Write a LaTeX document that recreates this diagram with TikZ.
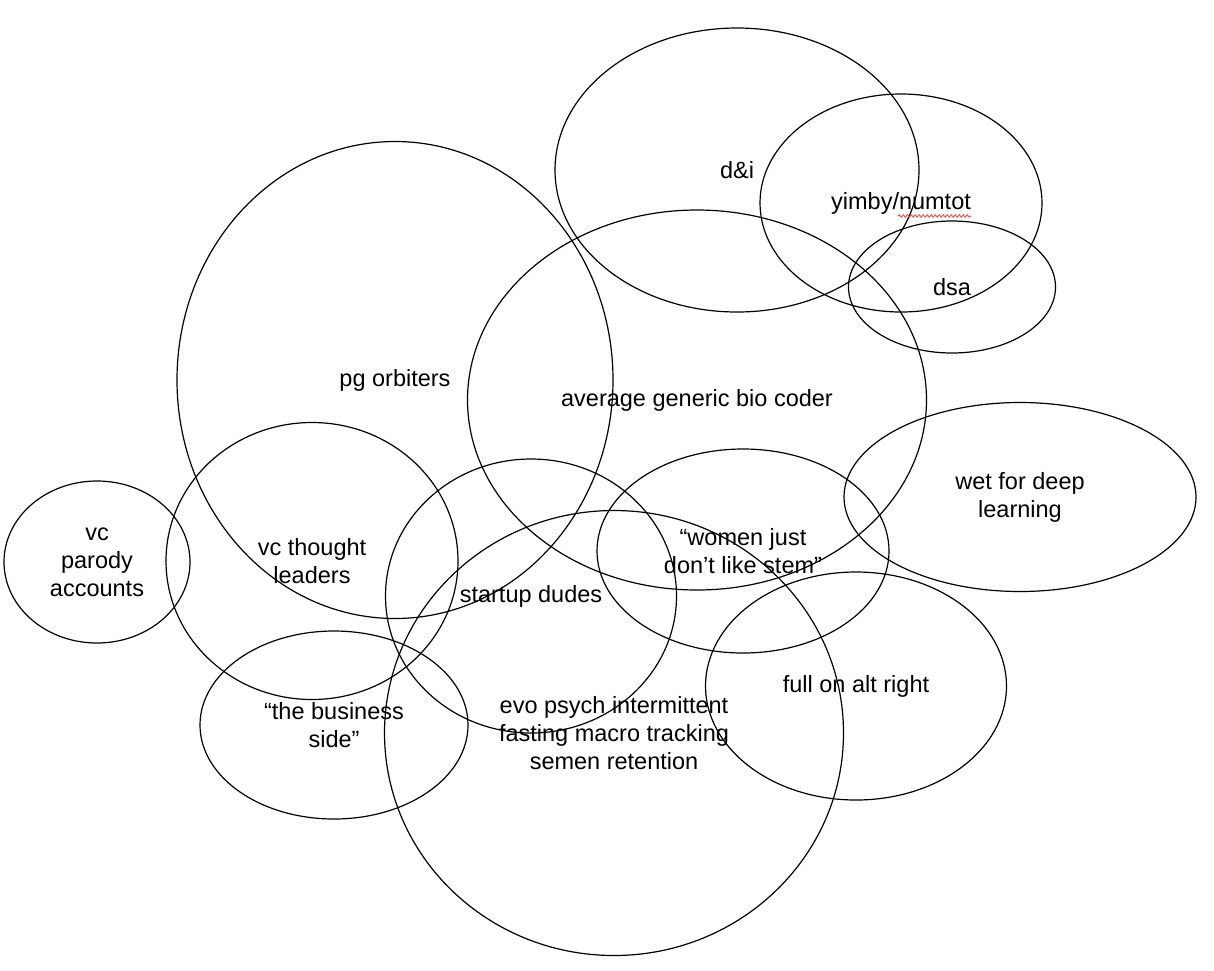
\documentclass[tikz,border=0pt]{standalone}
\usepackage{fontspec}
\setmainfont{Liberation Sans}
\usetikzlibrary{shapes.geometric,calc,decorations.pathmorphing}

\begin{document}
\begin{tikzpicture}[x=1pt, y=-1pt]
  % Estilos
  \tikzstyle{blob}=[ellipse, draw=black, line width=1.2pt, inner sep=0pt, align=center, font=\fontsize{23.5}{28}\selectfont]
  \tikzstyle{squiggle}=[red!75, line width=0.8pt, decorate, decoration={snake, amplitude=1.3pt, segment length=4pt}]

  % Fondo
  \useasboundingbox[fill=white] (0,0) rectangle (1214,970);

  % Grupos de arriba
  \node[blob, minimum width=364, minimum height=284] (dandi) at (737,170) {d\&i};
  \node[blob, minimum width=282, minimum height=218] (yimby) at (901,203) {yimby/numtot};
  \node[blob, minimum width=207, minimum height=132] (dsa) at (952,287) {dsa};

  % Grupos del centro
  \node[blob, minimum width=436, minimum height=477] (pg) at (395,380) {pg orbiters};
  \node[blob, minimum width=459, minimum height=380] (coder) at (697,400) {average generic bio coder};
  \node[blob, minimum width=352, minimum height=189] (deep) at (1020,497) {wet for deep\\learning};

  % Grupos de la izquierda
  \node[blob, minimum width=186, minimum height=162] (parody) at (97,562) {vc\\parody\\accounts};
  \node[blob, minimum width=292, minimum height=277] (thought) at (312,561) {vc thought\\leaders};
  \node[blob, minimum width=268, minimum height=188] (business) at (334,725) {“the business\\side”};

  % Grupos de abajo
  \node[blob, minimum width=291, minimum height=274] (startup) at (531,596) {startup dudes};
  \node[blob, minimum width=292, minimum height=204] (women) at (743,551) {“women just\\don’t like stem”};
  \node[blob, minimum width=459, minimum height=445] (evo) at (614,733) {evo psych intermittent\\fasting macro tracking\\semen retention};
  \node[blob, minimum width=301, minimum height=228] (altright) at (856,686) {full on alt right};

  % Subrayado del corrector
  \draw[squiggle] ($(yimby.center)+(-3,13)$) -- ($(yimby.center)+(70,13)$);
\end{tikzpicture}
\end{document}
